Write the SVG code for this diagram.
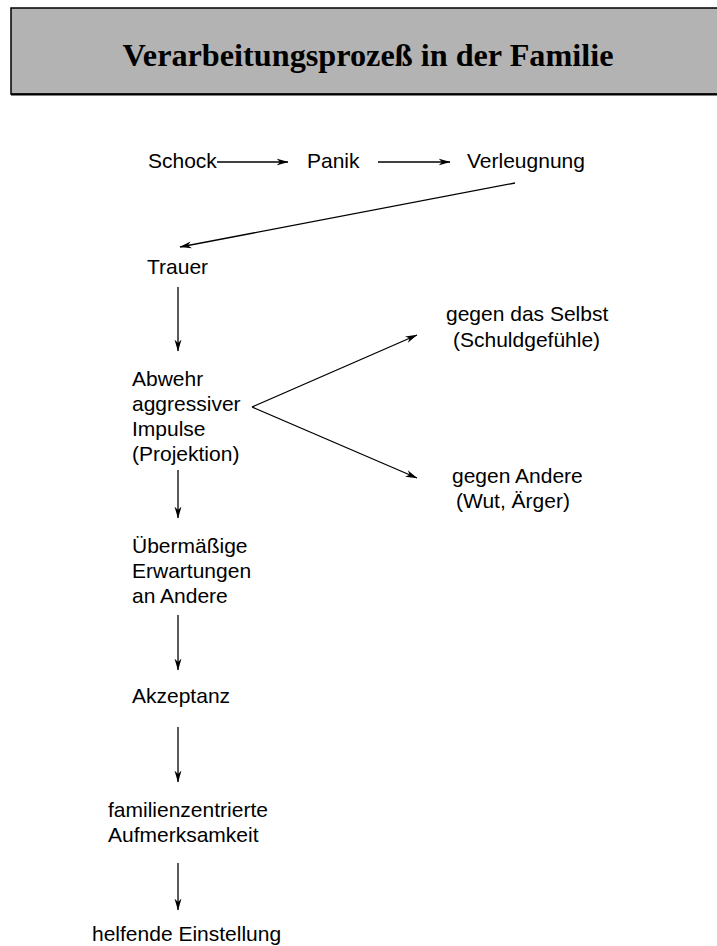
<svg xmlns="http://www.w3.org/2000/svg" width="717" height="946" viewBox="0 0 717 946">
<defs>
<marker id="ah" viewBox="0 0 12 8" refX="11.5" refY="4" markerWidth="12" markerHeight="8" markerUnits="userSpaceOnUse" orient="auto">
<path d="M0,0.5 L12,4 L0,7.5 L3.5,4 Z" fill="#000"/>
</marker>
<style>
.t{font-family:"Liberation Sans",Arial,sans-serif;font-size:21px;fill:#000}
.c line{stroke:#000;stroke-width:1.3;fill:none;marker-end:url(#ah)}
.h{font-family:"Liberation Serif","Times New Roman",serif;font-weight:bold;font-size:32px;fill:#000}
</style>
</defs>
<rect width="717" height="946" fill="#fff"/>
<g id="title">
<rect x="11" y="8" width="720" height="86" fill="#b3b3b3" stroke="#000" stroke-width="1.5"/>
<line x1="11" y1="94.5" x2="717" y2="94.5" stroke="#000" stroke-width="2"/>
<text class="h" x="368" y="66" text-anchor="middle" textLength="491" lengthAdjust="spacingAndGlyphs">Verarbeitungsprozeß in der Familie</text>
</g>
<g id="schock"><text class="t" x="148" y="168">Schock</text></g>
<g id="panik"><text class="t" x="307" y="168">Panik</text></g>
<g id="verleugnung"><text class="t" x="467" y="168">Verleugnung</text></g>
<g id="trauer"><text class="t" x="147" y="274">Trauer</text></g>
<g id="abwehr"><text class="t" x="132"><tspan x="132" y="386">Abwehr</tspan><tspan x="132" y="411">aggressiver</tspan><tspan x="132" y="436">Impulse</tspan><tspan x="132" y="461">(Projektion)</tspan></text></g>
<g id="selbst"><text class="t" x="446"><tspan x="446" y="321">gegen das Selbst</tspan><tspan x="453" y="347">(Schuldgefühle)</tspan></text></g>
<g id="andere"><text class="t" x="452"><tspan x="452" y="483">gegen Andere</tspan><tspan x="456" y="508">(Wut, Ärger)</tspan></text></g>
<g id="erwartungen"><text class="t" x="132"><tspan x="132" y="553">Übermäßige</tspan><tspan x="132" y="578">Erwartungen</tspan><tspan x="132" y="603">an Andere</tspan></text></g>
<g id="akzeptanz"><text class="t" x="132" y="703">Akzeptanz</text></g>
<g id="familie"><text class="t" x="108"><tspan x="108" y="817">familienzentrierte</tspan><tspan x="108" y="842">Aufmerksamkeit</tspan></text></g>
<g id="helfend"><text class="t" x="92" y="941">helfende Einstellung</text></g>
<g id="connectors" class="c">
<line x1="217" y1="162" x2="288" y2="162"/>
<line x1="378" y1="162" x2="450" y2="162"/>
<line x1="515" y1="183" x2="180" y2="247"/>
<line x1="178" y1="287" x2="178" y2="351"/>
<line x1="252" y1="407" x2="417" y2="335"/>
<line x1="252" y1="407" x2="417" y2="478"/>
<line x1="178" y1="470" x2="178" y2="518"/>
<line x1="178" y1="615" x2="178" y2="670"/>
<line x1="178" y1="727" x2="178" y2="782"/>
<line x1="178" y1="863" x2="178" y2="910"/>
</g>
</svg>
